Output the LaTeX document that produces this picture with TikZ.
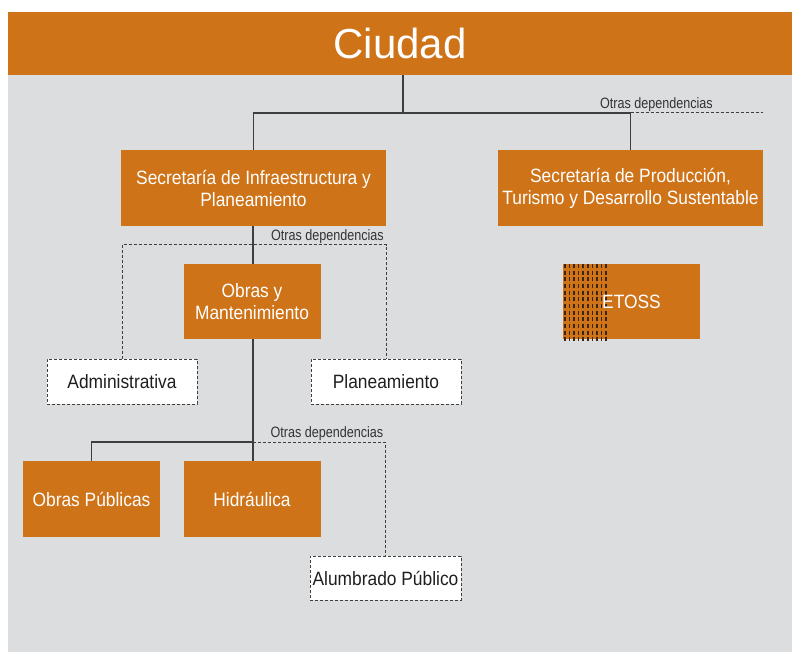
\documentclass[tikz,border=0pt]{standalone}
\usepackage{fontspec}
\setmainfont{Liberation Sans}[FakeStretch=0.9]
\newfontfamily\titulofont{Liberation Sans}
\newfontfamily\chicafont{Liberation Sans}[FakeStretch=0.84]
\usetikzlibrary{positioning}

\definecolor{naranja}{RGB}{207,115,24}
\definecolor{fondo}{RGB}{220,221,223}
\definecolor{linea}{RGB}{62,62,62}
\definecolor{trama}{RGB}{60,38,18}

\tikzset{
	caja/.style={fill=naranja,text=white,inner sep=0pt,align=center,
		minimum width=137pt,minimum height=75pt,
		font=\fontsize{19.3}{22}\selectfont},
	cajaancha/.style={caja,minimum width=265pt,minimum height=76pt},
	cajaotra/.style={fill=white,draw=linea,line width=1pt,dash pattern=on 3pt off 2pt,
		text=black!88,inner sep=0pt,minimum width=150pt,minimum height=45pt,
		font=\fontsize{19.3}{22}\selectfont},
	linea/.style={draw=linea,line width=1.4pt},
	lineaotra/.style={draw=linea,line width=1pt,dash pattern=on 3pt off 2pt},
	otras/.style={text=black!80,inner sep=1pt,font=\chicafont\fontsize{15}{15}\selectfont}
}

\begin{document}
\begin{tikzpicture}[x=1pt,y=-1pt]
	
	\useasboundingbox (0,0) rectangle (792,652);
	\fill[white] (0,0) rectangle (792,652);
	\fill[fondo] (8,75) rectangle (792,652);
	
	\node[fill=naranja,text=white,minimum width=784pt,minimum height=63pt,inner sep=0pt,
		font=\titulofont\fontsize{42}{42}\selectfont] (ciudad) at (400,43.5) {\raisebox{0pt}{Ciudad}};
	
	% primer nivel
	\node[cajaancha] (infra) at (253.5,188) {Secretaría de Infraestructura y\\Planeamiento};
	\node[cajaancha] (produccion) at (630.5,188) {Secretaría de Producción,\\Turismo y Desarrollo Sustentable};
	\coordinate (j1) at (403,113);
	\coordinate (fin1) at (763,113);
	\draw[linea] (ciudad.south -| j1) -- (j1);
	\draw[linea] (infra.north) |- (j1) -| (produccion.north);
	\draw[lineaotra] (produccion.north |- j1) -- (fin1);
	\node[otras,above left=0pt and 49pt] at (fin1) {Otras dependencias};
	
	% ETOSS
	\node[caja] (etoss) at (631.5,301.5) {};
	\foreach \i in {0,...,9} {
		\foreach \j in {0,...,11} {
			\draw[trama,line width=1.5pt] (564.8+\i*4.6,264+\j*6.65) -- ++(0,4);
		}
	}
	\node[text=white,font=\fontsize{19.3}{22}\selectfont,inner sep=0pt] at (etoss.center) {ETOSS};
	
	% segundo nivel
	\node[caja] (obras) at (252,301.5) {Obras y\\Mantenimiento};
	\node[cajaotra] (admin) at (122,381.5) {Administrativa};
	\node[cajaotra] (plan) at (386,381.5) {Planeamiento};
	\coordinate (j2) at (253,245);
	\draw[linea] (infra.south -| j2) -- (obras.north -| j2);
	\draw[lineaotra] (admin.north) |- (j2) -| (plan.north);
	\node[otras,above left=0pt and 1pt] at (plan.north |- j2) {Otras dependencias};
	
	% tercer nivel
	\node[caja,minimum height=76pt] (publicas) at (91.5,499) {Obras Públicas};
	\node[caja,minimum height=76pt] (hidraulica) at (252,499) {Hidráulica};
	\node[cajaotra,minimum width=151pt,minimum height=44pt] (alumbrado) at (385.5,578) {Alumbrado Público};
	\coordinate (j3) at (253,442);
	\draw[linea] (obras.south -| j3) -- (hidraulica.north -| j3);
	\draw[linea] (publicas.north) |- (j3);
	\draw[lineaotra] (j3) -| (alumbrado.north);
	\node[otras,above left=0pt and 1pt] at (alumbrado.north |- j3) {Otras dependencias};
	
\end{tikzpicture}
\end{document}
